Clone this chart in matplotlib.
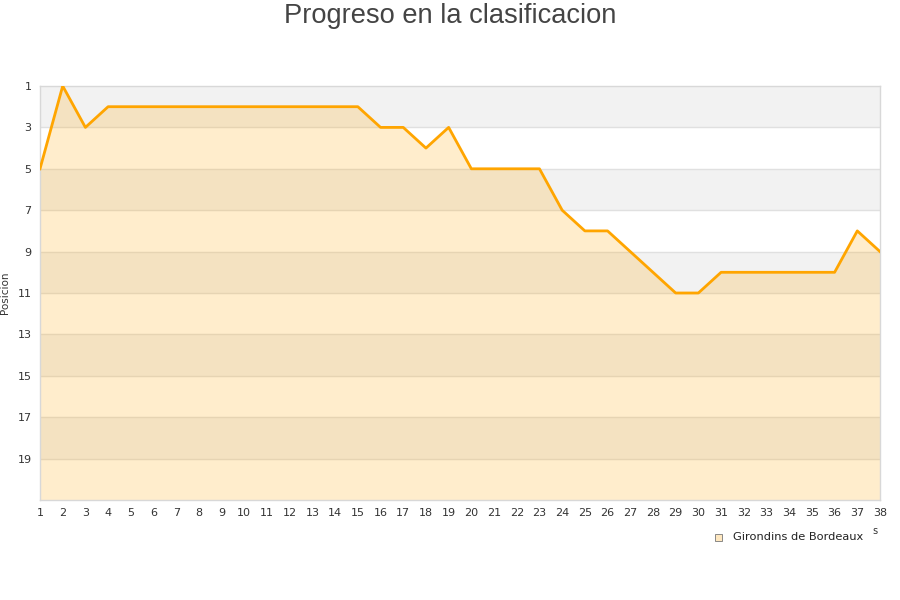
import numpy as np
import matplotlib
matplotlib.use('Agg')
import matplotlib.pyplot as plt

jornadas = list(range(1, 39))
posicion = [5, 1, 3, 2, 2, 2, 2, 2, 2, 2, 2, 2, 2, 2, 2, 3, 3, 4, 3, 5,
            5, 5, 5, 7, 8, 8, 9, 10, 11, 11, 10, 10, 10, 10, 10, 10, 8, 9]
equipo = 'Girondins de Bordeaux'
titulo = 'Progreso en la clasificacion'
y_ticks = [1, 3, 5, 7, 9, 11, 13, 15, 17, 19]

plt.rcParams['font.family'] = ['DejaVu Sans']

fig = plt.figure(figsize=(9, 6), dpi=100)
ax = fig.add_axes([40 / 900, 100 / 600, 840 / 900, 414 / 600])

# bandas alternas
for i, lo in enumerate(range(1, 21, 2)):
    if i % 2 == 0:
        ax.axhspan(lo, lo + 2, color='#f2f2f2', zorder=0, lw=0)
for t in y_ticks[1:]:
    ax.axhline(t, color='#e0e0e0', lw=1, zorder=1)

ax.fill_between(jornadas, posicion, 21, color='#ffa500', alpha=0.2, lw=0, zorder=2)
ax.plot(jornadas, posicion, color='#ffa500', lw=2, zorder=3)

ax.set_xlim(1, 38)
ax.set_ylim(21, 1)
ax.set_xticks(jornadas)
ax.set_yticks(y_ticks)
ax.tick_params(length=0, labelsize=8, colors='#333333', pad=6)
for s in ax.spines.values():
    s.set_color('#d8d8d8')
    s.set_linewidth(1)

ax.set_ylabel('Posicion', fontsize=7.5, color='#333333')
ax.yaxis.set_label_coords(-30 / 840, 0.5)
fig.text(0.5, 1 - 16 / 600, titulo, ha='center', va='center', fontsize=19.6,
         color='#444444', family='Liberation Sans')

# leyenda
fig.patches.append(plt.Rectangle((715 / 900, 1 - 541 / 600), 7 / 900, 7 / 600,
                                 transform=fig.transFigure, facecolor='#ffe8c0',
                                 edgecolor='#777777', lw=0.6))
fig.text(733 / 900, 1 - 537 / 600, equipo, ha='left', va='center', fontsize=8.2, color='#222222')
fig.text(875 / 900, 1 - 531 / 600, 's', ha='center', va='center', fontsize=7, color='#333333')

fig.savefig('out.png', dpi=100)
